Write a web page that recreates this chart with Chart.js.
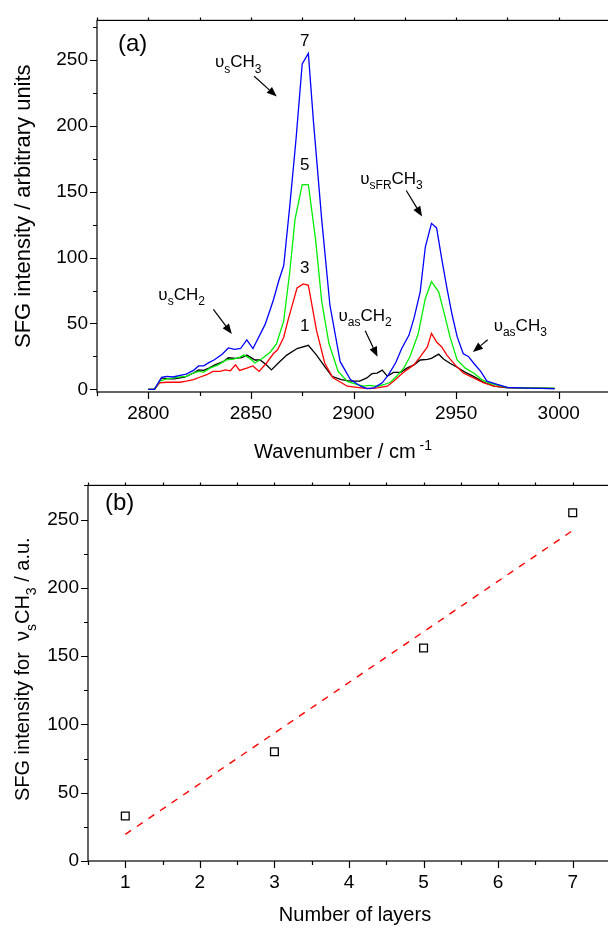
<!DOCTYPE html>
<html>
<head>
<meta charset="utf-8">
<script src="https://cdn.jsdelivr.net/npm/chart.js@4.4.1/dist/chart.umd.min.js"></script>
<style>
html, body { margin: 0; padding: 0; background: #fff; overflow: hidden; width: 608px; height: 929px; }
canvas { position: absolute; left: 0; }
#spec { top: 0; }
#layers { top: 465px; }
</style>
</head>
<body>
<canvas id="spec" width="620" height="465"></canvas>
<canvas id="layers" width="620" height="464"></canvas>
<script>
const FONT = '"Liberation Sans", Arial, sans-serif';

// (a) SFG spectra, one per number of layers
const wn7 = [2800, 2803, 2806.5, 2809, 2812, 2815.5, 2818.5, 2822, 2824.5, 2827, 2829.5, 2832, 2836, 2839, 2842, 2845, 2848, 2851, 2857, 2861, 2863.5, 2866, 2869, 2872, 2875, 2878, 2880.5, 2884.5, 2888.5, 2893.5, 2898.5, 2903.5, 2906.5, 2910, 2914, 2917, 2920.5, 2923.5, 2927, 2929.5, 2932.5, 2935, 2938, 2940.5, 2943, 2945.5, 2948, 2950.5, 2953.5, 2956, 2958.5, 2962, 2965, 2970, 2975, 2985, 2998];
const sfg7 = [0, 0, 9.2, 9.9, 9.4, 10.6, 11.6, 14.4, 17.8, 17.8, 20.3, 22.3, 26.7, 31.4, 30.4, 31, 37.6, 31, 49.5, 68, 82, 94, 140, 190, 247, 255, 203, 129, 64, 21, 7.4, 2.4, 0.5, 1.2, 5, 11, 20, 31, 41, 54, 74, 108, 126, 122.5, 99, 77, 57, 40, 27, 25, 20, 13.6, 6.2, 3.7, 1.5, 1, 0.5];

const wn5 = [2800, 2803, 2805.5, 2809, 2812, 2815.5, 2818.5, 2822, 2824.5, 2827, 2830, 2834, 2838, 2841.5, 2844.5, 2846.5, 2849.5, 2852, 2856, 2859.5, 2862.5, 2866, 2869, 2871.5, 2875, 2878, 2881.5, 2884.5, 2888, 2892.5, 2897, 2901.5, 2905, 2908, 2911.5, 2915, 2918, 2921, 2924.5, 2927.5, 2931.5, 2935, 2938, 2941.5, 2944, 2947, 2950.5, 2954.5, 2958.5, 2962.5, 2966.5, 2975, 2985, 2998];
const sfg5 = [0, 0, 6.2, 7.9, 8.5, 9.4, 9.9, 12.4, 13.6, 13.1, 16.1, 18.6, 22.3, 23, 24.3, 26, 23.5, 20, 24, 28.4, 34.7, 52, 90, 129, 155.4, 155.4, 114, 67, 35, 13.6, 6, 3.7, 2.4, 3, 2.2, 3.7, 5.4, 9.9, 16.1, 24.7, 42, 69, 81.7, 74, 59, 40, 22.3, 16.1, 12.4, 7.4, 4.5, 1.5, 1.2, 1];

const wn3 = [2800, 2803, 2805.5, 2809, 2815.5, 2818.5, 2822, 2825, 2828.5, 2831.5, 2835, 2837.5, 2840, 2842.5, 2844.5, 2848, 2851, 2854, 2857.5, 2861, 2863, 2866, 2868, 2872.5, 2875.5, 2878, 2882, 2886, 2890, 2897, 2903.5, 2908, 2911.5, 2916.5, 2919.5, 2923, 2926, 2929.5, 2932.5, 2936, 2938, 2940.5, 2943, 2945.5, 2949.5, 2953.5, 2958.5, 2963.5, 2968.5, 2975, 2985, 2998];
const sfg3 = [0, 0, 5, 5.4, 5.4, 6.2, 7.4, 9.2, 11.1, 13.6, 13.6, 14.8, 14.1, 18.6, 14.4, 16.1, 17.8, 13.6, 19.8, 27.2, 30, 39.6, 52, 77, 80, 79, 44.5, 19.8, 8.7, 2.4, 1.2, 0.5, 1.2, 2.4, 6.2, 11.1, 14.8, 18.6, 24.7, 32.2, 42.5, 35.9, 32.2, 26, 18.6, 12.4, 8.7, 5, 2.4, 1.5, 1.2, 0.8];

const wn1 = [2800, 2803, 2806.5, 2810, 2812.5, 2815.5, 2818, 2822, 2824.5, 2827, 2829.5, 2832.5, 2836.5, 2839, 2842.5, 2845.5, 2848, 2852, 2854.5, 2857.5, 2860, 2864, 2867.5, 2872.5, 2878, 2882, 2886, 2889.5, 2894, 2898.5, 2903, 2906.5, 2909, 2911.5, 2914, 2916.5, 2919.5, 2923, 2926, 2929.5, 2932.5, 2936, 2938, 2941.5, 2944, 2947, 2950.5, 2954.5, 2958.5, 2963.5, 2968.5, 2975, 2985, 2998];
const sfg1 = [0, 0, 8.7, 8, 8, 8.7, 9.4, 12.4, 14.8, 14.4, 16.1, 18.6, 21, 24, 23.5, 24, 26, 22.3, 22.3, 18.6, 14.8, 21, 26, 31, 33.4, 26, 17.3, 9.9, 7.4, 6.2, 6.2, 8.7, 11.9, 12.4, 14.6, 10, 12.9, 12.9, 16.1, 18.6, 22.3, 22.8, 23.5, 26.7, 22.8, 19.8, 16.8, 12.9, 9.9, 5.4, 2.4, 1.2, 1, 0.5];

const specXLabels = [2800, 2850, 2900, 2950, 3000];
const specYLabels = [0, 50, 100, 150, 200, 250];

// (b) peak height of the symmetric CH3 stretch vs number of layers
const layers = [1, 3, 5, 7];
const peakHeight = [33, 80, 156, 255];
const fitLayers = [1, 7];
const fitHeight = [19.5, 242];
const layerXLabels = [1, 2, 3, 4, 5, 6, 7];
const layerYLabels = [0, 50, 100, 150, 200, 250];

const pts = (xs, ys) => xs.map((x, i) => ({ x, y: ys[i] }));

function richText(ctx, parts, x, y, size, align) {
    const small = Math.round(size * 0.68);
    const fontOf = (p) => `${p[1] ? small : size}px ${FONT}`;
    let w = 0;
    parts.forEach((p) => { ctx.font = fontOf(p); w += ctx.measureText(p[0]).width; });
    let cx = align === 'center' ? x - w / 2 : x;
    ctx.textAlign = 'left';
    ctx.textBaseline = 'alphabetic';
    parts.forEach((p) => {
        ctx.font = fontOf(p);
        const dy = p[1] === 'sub' ? size * 0.32 : p[1] === 'sup' ? -size * 0.42 : 0;
        ctx.fillText(p[0], cx, y + dy);
        cx += ctx.measureText(p[0]).width;
    });
}

function arrow(ctx, x1, y1, x2, y2) {
    const ang = Math.atan2(y2 - y1, x2 - x1);
    const hl = 10, hw = 4;
    const bx = x2 - hl * Math.cos(ang), by = y2 - hl * Math.sin(ang);
    ctx.beginPath();
    ctx.moveTo(x1, y1);
    ctx.lineTo(bx, by);
    ctx.stroke();
    ctx.beginPath();
    ctx.moveTo(x2, y2);
    ctx.lineTo(bx + hw * Math.sin(ang), by - hw * Math.cos(ang));
    ctx.lineTo(bx - hw * Math.sin(ang), by + hw * Math.cos(ang));
    ctx.closePath();
    ctx.fill();
}

function frameAndTicks(chart, majorX, majorY) {
    const { ctx, chartArea: a, scales: { x, y } } = chart;
    ctx.save();
    ctx.strokeStyle = '#000';
    ctx.lineWidth = 1.2;
    ctx.strokeRect(a.left, a.top, a.right - a.left, a.bottom - a.top);
    ctx.beginPath();
    x.ticks.forEach((t) => {
        const px = Math.round(x.getPixelForValue(t.value)) + 0.5;
        const len = majorX.includes(t.value) ? 7 : 4;
        ctx.moveTo(px, a.bottom); ctx.lineTo(px, a.bottom + len);
        ctx.moveTo(px, a.top); ctx.lineTo(px, a.top - 3);
    });
    y.ticks.forEach((t) => {
        const py = Math.round(y.getPixelForValue(t.value)) + 0.5;
        const len = majorY.includes(t.value) ? 7 : 4;
        ctx.moveTo(a.left - len, py); ctx.lineTo(a.left, py);
    });
    ctx.stroke();
    ctx.restore();
}

function verticalTitle(ctx, parts, cx, cy, size) {
    ctx.save();
    ctx.translate(cx, cy);
    ctx.rotate(-Math.PI / 2);
    richText(ctx, parts, 0, size * 0.36, size, 'center');
    ctx.restore();
}

const specNotes = [
    { parts: [['υ'], ['s', 'sub'], ['CH'], ['3', 'sub']], at: [2832.5, 244.5], arrow: [2851.6, 237.6, 2862.6, 222.2] },
    { parts: [['υ'], ['s', 'sub'], ['CH'], ['2', 'sub']], at: [2804.9, 68.1], arrow: [2831.7, 60.7, 2840.7, 42.1] },
    { parts: [['υ'], ['sFR', 'sub'], ['CH'], ['3', 'sub']], at: [2903.3, 155.9], arrow: [2925.7, 150.9, 2933.4, 131.2] },
    { parts: [['υ'], ['as', 'sub'], ['CH'], ['2', 'sub']], at: [2892.7, 52], arrow: [2905.7, 44.5, 2911.7, 24.7] },
    { parts: [['υ'], ['as', 'sub'], ['CH'], ['3', 'sub']], at: [2968.3, 44.5], arrow: [2965.4, 37.6, 2958.2, 28.4] },
];
const curveTags = [['7', 264], ['5', 170], ['3', 91.5], ['1', 47.7]];

const specDecor = {
    id: 'specDecor',
    afterDraw(chart) {
        const { ctx, chartArea: a, scales: { x, y } } = chart;
        frameAndTicks(chart, specXLabels, specYLabels);
        ctx.save();
        ctx.fillStyle = '#000';
        ctx.strokeStyle = '#000';
        ctx.lineWidth = 1.2;
        ctx.font = `24px ${FONT}`;
        ctx.textBaseline = 'middle';
        ctx.textAlign = 'left';
        ctx.fillText('(a)', 118, 44);
        ctx.font = `17px ${FONT}`;
        ctx.textAlign = 'center';
        curveTags.forEach(([t, v]) => ctx.fillText(t, x.getPixelForValue(2876.2), y.getPixelForValue(v)));
        specNotes.forEach((n) => {
            richText(ctx, n.parts, x.getPixelForValue(n.at[0]), y.getPixelForValue(n.at[1]), 17, 'left');
            arrow(ctx, x.getPixelForValue(n.arrow[0]), y.getPixelForValue(n.arrow[1]),
                x.getPixelForValue(n.arrow[2]), y.getPixelForValue(n.arrow[3]));
        });
        richText(ctx, [['Wavenumber / cm'], [' -1', 'sup']], 343, 458, 20, 'center');
        verticalTitle(ctx, [['SFG intensity / arbitrary units']], 22, (a.top + a.bottom) / 2, 22);
        ctx.restore();
    },
};

const layerDecor = {
    id: 'layerDecor',
    afterDraw(chart) {
        const { ctx, chartArea: a } = chart;
        frameAndTicks(chart, layerXLabels, layerYLabels);
        ctx.save();
        ctx.fillStyle = '#000';
        ctx.font = `24px ${FONT}`;
        ctx.textBaseline = 'middle';
        ctx.textAlign = 'left';
        ctx.fillText('(b)', 105, 38);
        richText(ctx, [['Number of layers']], 355, 456, 20, 'center');
        verticalTitle(ctx, [['SFG intensity for  ν'], ['s', 'sub'], ['CH'], ['3', 'sub'], [' / a.u.']], 22, (a.top + a.bottom) / 2 - 4, 20);
        ctx.restore();
    },
};

const tickFont = { family: FONT, size: 19 };

function axes(xMin, xMax, xStep, xLabels, yMin, yMax, yLabels, yWidth, xHeight) {
    return {
        x: {
            type: 'linear', min: xMin, max: xMax,
            grid: { display: false, drawTicks: false },
            border: { display: false },
            ticks: {
                stepSize: xStep, includeBounds: false, autoSkip: false, maxRotation: 0,
                padding: 10, color: '#000', font: tickFont,
                callback: (v) => (xLabels.includes(v) ? String(v) : ''),
            },
            afterFit: (s) => { s.height = xHeight; },
        },
        y: {
            min: yMin, max: yMax,
            grid: { display: false, drawTicks: false },
            border: { display: false },
            ticks: {
                stepSize: 25, includeBounds: false, autoSkip: false,
                padding: 9, color: '#000', font: tickFont,
                callback: (v) => (yLabels.includes(v) ? String(v) : ''),
            },
            afterFit: (s) => { s.width = yWidth; },
        },
    };
}

const spectrum = (label, xs, ys, color) => ({
    label, data: pts(xs, ys), borderColor: color, borderWidth: 1.3,
    pointRadius: 0, tension: 0, fill: false,
});

new Chart(document.getElementById('spec'), {
    type: 'line',
    data: {
        datasets: [
            spectrum('7 layers', wn7, sfg7, '#0000ff'),
            spectrum('5 layers', wn5, sfg5, '#00ee00'),
            spectrum('3 layers', wn3, sfg3, '#ff0000'),
            spectrum('1 layer', wn1, sfg1, '#000000'),
        ],
    },
    options: {
        responsive: false,
        animation: false,
        layout: { padding: { left: 0, top: 13, right: 10, bottom: 0 } },
        plugins: { legend: { display: false }, tooltip: { enabled: false } },
        scales: axes(2775, 3025, 25, specXLabels, -2, 280, specYLabels, 97, 73),
    },
    plugins: [specDecor],
});

new Chart(document.getElementById('layers'), {
    type: 'line',
    data: {
        datasets: [
            {
                label: 'peak',
                data: pts(layers, peakHeight),
                showLine: false,
                pointStyle: 'rect',
                pointRadius: 5.5,
                borderColor: '#000',
                backgroundColor: 'rgba(0,0,0,0)',
                borderWidth: 1.3,
            },
            {
                label: 'fit',
                data: pts(fitLayers, fitHeight),
                borderColor: '#ff0000',
                borderWidth: 1.4,
                borderDash: [7, 7],
                pointRadius: 0,
                tension: 0,
            },
        ],
    },
    options: {
        responsive: false,
        animation: false,
        layout: { padding: { left: 0, top: 10, right: 9, bottom: 0 } },
        plugins: { legend: { display: false }, tooltip: { enabled: false } },
        scales: axes(0.5, 7.5, 0.5, layerXLabels, 0, 275, layerYLabels, 88, 68),
    },
    plugins: [layerDecor],
});
</script>
</body>
</html>
